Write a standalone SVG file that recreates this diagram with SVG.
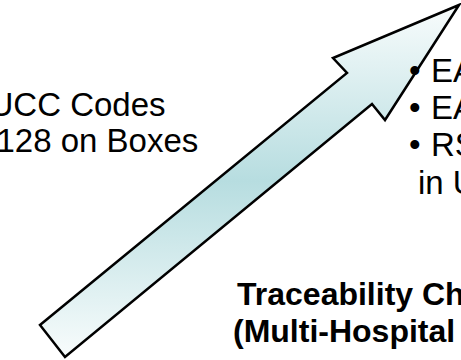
<svg xmlns="http://www.w3.org/2000/svg" width="461" height="360" viewBox="0 0 461 360">
  <style>
    .t { font-family: "Liberation Sans", Arial, sans-serif; font-size: 33px; fill: #000; }
    .b { font-family: "Liberation Sans", Arial, sans-serif; font-size: 32px; font-weight: bold; fill: #000; }
  </style>
  <defs>
    <linearGradient id="arrowFill" gradientUnits="userSpaceOnUse" x1="0" y1="5" x2="0" y2="357">
      <stop offset="0" stop-color="#f8fcfc"/>
      <stop offset="0.5" stop-color="#b7dde0"/>
      <stop offset="1" stop-color="#f8fcfc"/>
    </linearGradient>
  </defs>
  <rect width="461" height="360" fill="#ffffff"/>
  <g id="arrow">
    <polygon points="459,5 333,58 347,73 40,325 65,357 372,104 385,120" fill="url(#arrowFill)" stroke="#000" stroke-width="2.5" stroke-linejoin="miter"/>
  </g>
  <g id="left-text">
    <text class="t" x="-10.5" y="116">UCC Codes</text>
    <text class="t" x="-3.5" y="152">128 on Boxes</text>
  </g>
  <g id="right-bullets">
    <text class="t" x="409" y="81.5">•</text>
    <text class="t" x="431" y="81.5">EA</text>
    <text class="t" x="409" y="118.5">•</text>
    <text class="t" x="431" y="118.5">EA</text>
    <text class="t" x="409" y="156">•</text>
    <text class="t" x="431" y="156">RS</text>
    <text class="t" x="418" y="194">in U</text>
  </g>
  <g id="bottom-text">
    <text class="b" x="237" y="305">Traceability Ch</text>
    <text class="b" x="233" y="342">(Multi-Hospital</text>
  </g>
</svg>
